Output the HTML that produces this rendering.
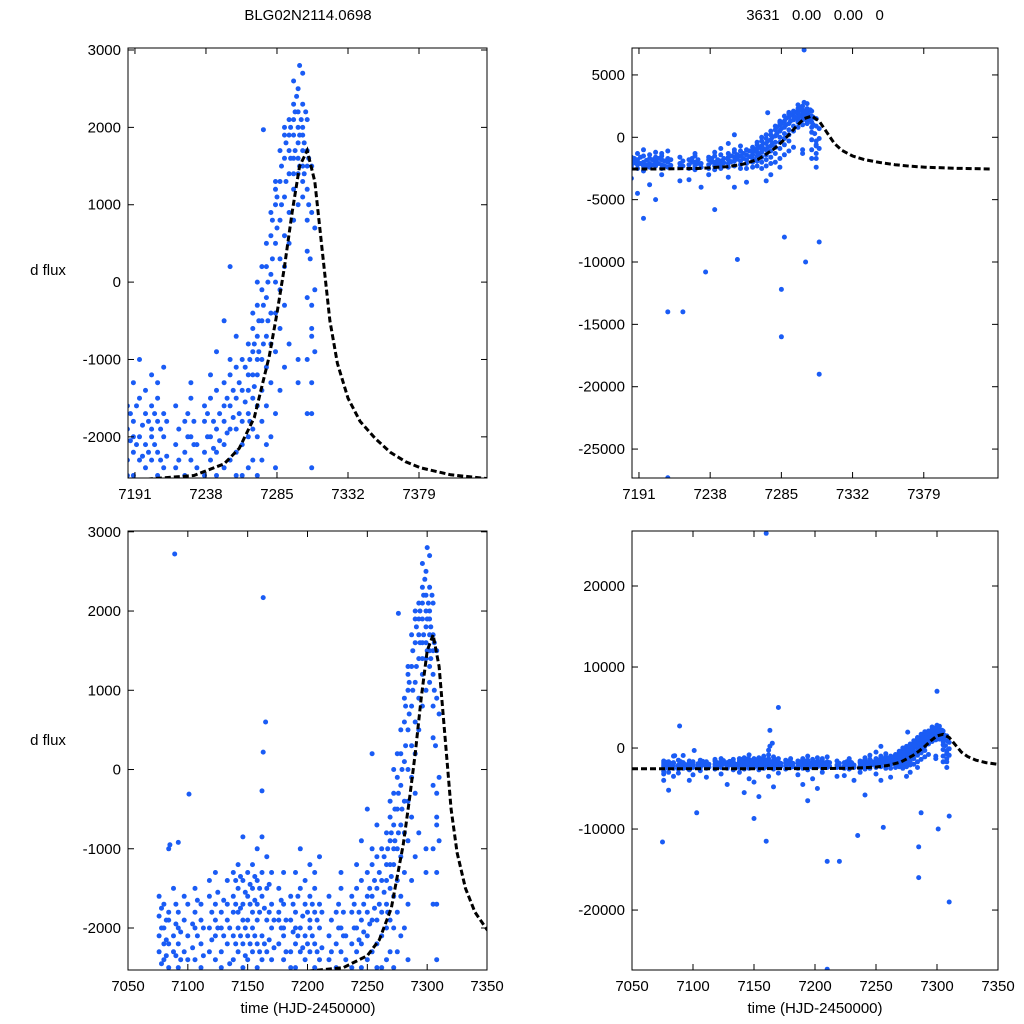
<!DOCTYPE html>
<html><head><meta charset="utf-8"><style>
html,body{margin:0;padding:0;background:#fff;width:1024px;height:1024px;overflow:hidden;}
svg{display:block;font-family:"Liberation Sans",sans-serif;vertical-align:top;}
</style></head><body>
<svg id="chart" width="1024" height="1024" viewBox="0 0 1024 1024">
<text x="308" y="20" text-anchor="middle" font-size="15">BLG02N2114.0698</text>
<text x="815" y="20" text-anchor="middle" font-size="15" xml:space="preserve">3631   0.00   0.00   0</text>
<text x="48" y="275" text-anchor="middle" font-size="15">d flux</text>
<text x="48" y="745" text-anchor="middle" font-size="15">d flux</text>
<text x="308" y="1013" text-anchor="middle" font-size="15">time (HJD-2450000)</text>
<text x="815" y="1013" text-anchor="middle" font-size="15">time (HJD-2450000)</text>
</svg>
<script>
const obs=[
[7076,-1850],[7076,-2100],[7076,-2300],[7076,-2600],[7076,-3200],[7076,-4000],[7076,-1600],[7076,-2900],[7075,-11600],
[7080,-2000],[7080,-2400],[7080,-1700],[7080,-3000],[7080,-2200],[7080,-5200],
[7084,-1900],[7084,-2200],[7084,-1000],[7084,-2500],[7084,-3500],[7084,-1800],[7085,-950],
[7088,-2100],[7088,-1500],[7088,-2600],[7088,-2300],[7089,2720],[7088,-3100],
[7092,-2200],[7092,-1800],[7092,-2500],[7092,-2000],[7092,-920],
[7097,-2300],[7097,-1900],[7097,-1600],[7097,-2700],[7097,-4000],
[7100,-2100],[7100,-2400],[7101,-310],[7100,-1700],[7100,-3300],[7103,-8000],
[7106,-1800],[7106,-2000],[7106,-2400],[7106,-2800],[7106,-1500],
[7111,-2200],[7111,-1700],[7111,-2500],[7111,-3600],[7111,-1900],
[7118,-2000],[7118,-1600],[7118,-2300],[7118,-2600],[7118,-1400],
[7123,-1900],[7123,-2400],[7123,-1700],[7123,-3200],[7123,-2100],[7123,-1300],
[7128,-2300],[7128,-1800],[7128,-2500],[7128,-2000],[7128,-4500],
[7133,-1700],[7133,-2200],[7133,-1400],[7133,-2700],[7133,-1900],
[7138,-1600],[7138,-2100],[7138,-2400],[7138,-1300],[7138,-3000],[7138,-1800],
[7142,-1500],[7142,-2000],[7142,-2300],[7142,-1200],[7142,-2600],[7142,-5500],[7142,-1800],
[7146,-1900],[7146,-1400],[7146,-2200],[7146,-850],[7146,-2500],[7146,-1700],[7146,-3800],
[7150,-1600],[7150,-2100],[7150,-1300],[7150,-2400],[7150,-1900],[7150,-8700],[7150,-4200],
[7154,-1800],[7154,-1500],[7154,-2300],[7154,-2000],[7154,-1200],[7154,-2700],[7154,-6000],
[7158,-1700],[7158,-2200],[7158,-1400],[7158,-2500],[7158,-1000],[7158,-1900],[7160,-11500],
[7162,-1600],[7162,-2100],[7162,-850],[7162,-270],[7163,220],[7165,600],[7162,-2400],[7162,-1300],[7162,-3500],
[7163,2170],[7160,26500],
[7166,-1900],[7166,-1500],[7166,-2300],[7166,-1100],[7166,-2600],[7166,-4800],[7170,5000],
[7170,-2000],[7170,-1700],[7170,-2400],[7170,-1300],[7170,-3100],
[7176,-1800],[7176,-2200],[7176,-1500],[7176,-2600],[7176,-1900],
[7180,-2100],[7180,-1700],[7180,-2400],[7180,-2000],[7180,-1300],
[7186,-1900],[7186,-2300],[7186,-1600],[7186,-2500],[7186,-3300],
[7190,-2200],[7190,-1800],[7190,-1300],[7190,-2500],[7190,-2000],[7190,-4500],
[7194,-2000],[7194,-1500],[7194,-2300],[7194,-1000],[7194,-2700],[7194,-6500],
[7198,-1700],[7198,-2100],[7198,-1400],[7198,-2400],[7198,-3800],
[7202,-1900],[7202,-1600],[7202,-2300],[7202,-1200],[7202,-2000],[7202,-5000],
[7206,-1800],[7206,-2200],[7206,-1500],[7206,-2500],[7206,-1300],[7206,-3000],[7210,-27300],
[7210,-2000],[7210,-1700],[7210,-2400],[7210,-1100],[7210,-14000],
[7218,-2100],[7218,-1600],[7218,-2400],[7220,-14000],[7218,-3500],
[7224,-2200],[7224,-1800],[7224,-2500],[7224,-3400],
[7228,-2000],[7228,-1500],[7228,-2300],[7228,-1300],[7228,-2600],
[7232,-2400],[7232,-2100],[7232,-4000],[7235,-10800],
[7237,-2200],[7237,-1800],[7237,-2500],[7237,-1600],[7237,-3000],
[7241,-2000],[7241,-1500],[7241,-2300],[7241,-1200],[7241,-2600],[7241,-5800],
[7245,-1900],[7245,-1400],[7245,-2200],[7245,-900],[7245,-2500],
[7250,-1800],[7250,-1300],[7250,-2100],[7250,-500],[7250,-2400],[7250,-1600],[7250,-3200],
[7254,-1600],[7254,-1900],[7254,-1200],[7254,200],[7254,-2300],[7254,-1000],[7254,-4000],
[7258,-1500],[7258,-1900],[7258,-1100],[7258,-2200],[7258,-700],[7258,-2500],[7256,-9800],
[7262,-1400],[7262,-1800],[7262,-1000],[7262,-2100],[7262,-2500],[7262,-3600],
[7266,-1200],[7266,-1700],[7266,-800],[7266,-2000],[7266,-1400],[7266,-2400],
[7269,-900],[7269,-1500],[7269,-600],[7269,-1900],[7269,-1200],[7269,-2300],[7269,-400],
[7272,-700],[7272,-1200],[7272,-300],[7272,-1600],[7272,-1000],[7272,-2000],[7272,0],[7272,-2500],
[7275,-500],[7275,-1000],[7275,-100],[7275,-1400],[7275,200],[7275,-1800],[7275,-2300],[7275,-3500],
[7278,-200],[7278,-700],[7278,200],[7278,-1100],[7278,500],[7278,-1600],[7278,-2100],[7278,-3000],[7276,1970],
[7281,100],[7281,-400],[7281,600],[7281,-800],[7281,900],[7281,-1300],[7281,-2000],
[7284,500],[7284,0],[7284,1000],[7284,-400],[7284,1300],[7284,-900],[7284,-1700],[7284,-2400],[7284,1200],[7285,-16000],[7285,-12200],
[7287,800],[7287,300],[7287,1300],[7287,-100],[7287,1700],[7287,-600],[7287,-1400],[7287,-8000],
[7290,1100],[7290,600],[7290,1600],[7290,200],[7290,1900],[7290,-300],[7290,-1100],[7290,2000],
[7293,1400],[7293,900],[7293,1900],[7293,500],[7293,2100],[7293,1700],[7293,-800],
[7296,1600],[7296,1200],[7296,2100],[7296,800],[7296,2300],[7296,1900],[7296,2600],[7296,1400],
[7299,1800],[7299,1400],[7299,2200],[7299,1000],[7299,2500],[7299,2000],[7300,2800],[7299,1600],[7299,-1000],[7299,-1300],[7300,7000],
[7302,1900],[7302,1500],[7302,2300],[7302,1100],[7302,2700],[7302,1700],[7302,2000],[7302,1300],
[7305,1700],[7305,1200],[7305,2100],[7305,800],[7305,1500],[7305,-200],[7305,400],[7305,-1000],[7305,-1700],[7301,-10000],
[7308,1500],[7308,900],[7308,-300],[7308,-700],[7308,-1300],[7308,-1700],[7308,-2400],[7308,-600],[7310,-19000],
[7310,700],[7310,-100],[7310,-900],[7310,-8400]
];
const obsExtra=[
[7078,-2000],[7078,-2450],[7078,-1750],[7082,-2150],[7082,-1900],[7082,-2350],[7090,-1950],[7090,-2350],[7090,-1700],
[7094,-2050],[7094,-2400],[7104,-1950],[7104,-2250],[7108,-2100],[7108,-1650],[7113,-2000],[7113,-2350],
[7120,-1800],[7120,-2150],[7125,-2000],[7125,-1550],[7130,-2100],[7130,-1650],[7135,-2000],[7135,-2450],
[7140,-1700],[7140,-2200],[7140,-1400],[7144,-1750],[7144,-2100],[7144,-1350],[7148,-2000],[7148,-1550],[7148,-2350],
[7152,-1700],[7152,-2200],[7152,-1450],[7156,-1650],[7156,-2100],[7156,-1350],[7160,-1800],[7160,-2300],[7160,-1500],
[7164,-1750],[7164,-2200],[7168,-1800],[7168,-2150],[7168,-1450],[7172,-1900],[7172,-2250],[7178,-2000],[7178,-1650],
[7182,-1900],[7182,-2300],[7188,-2050],[7188,-1700],[7192,-2100],[7192,-1600],[7196,-1850],[7196,-2250],
[7200,-1800],[7200,-2200],[7204,-1700],[7204,-2100],[7208,-1900],[7208,-2300],[7212,-1800],[7212,-2250],
[7220,-1900],[7220,-2300],[7226,-2000],[7226,-1700],[7230,-2100],[7230,-1800],[7239,-2000],[7239,-1700],
[7243,-1800],[7243,-2150],[7247,-1700],[7247,-2050],[7252,-1500],[7252,-1950],[7256,-1400],[7256,-1750],
[7260,-1300],[7260,-1700],[7264,-1100],[7264,-1550],[7267,-1000],[7267,-1800],[7270,-800],[7270,-1350],
[7273,-500],[7273,-900],[7276,-300],[7276,-800],[7279,0],[7279,-500],[7282,300],[7282,800],[7285,700],[7285,1100],
[7288,1000],[7288,1500],[7291,1300],[7291,1800],[7294,1600],[7294,2000],[7297,1700],[7297,2200],[7298,2400],
[7300,1900],[7300,1500],[7301,2100],[7303,1800],[7303,1400],[7304,2200],[7306,1600],[7306,1000],[7307,300]
];
const modelTime=[7050,7100,7150,7200,7230,7250,7260,7270,7280,7285,7290,7295,7300,7305,7310,7315,7320,7325,7332,7340,7350,7360,7370,7380,7400,7424];
const modelFlux=[-2560,-2560,-2555,-2545,-2500,-2350,-2150,-1750,-950,-400,200,900,1500,1700,1300,400,-500,-1050,-1500,-1800,-2020,-2200,-2320,-2400,-2490,-2540];
const xTicksTop=[7191,7238,7285,7332,7379];
const xTicksBottom=[7050,7100,7150,7200,7250,7300,7350];
const yTicksSmall=[-2000,-1000,0,1000,2000,3000];
const yTicksTopRight=[-25000,-20000,-15000,-10000,-5000,0,5000];
const yTicksBottomRight=[-20000,-10000,0,10000,20000];

const NS='http://www.w3.org/2000/svg';
const svg=document.getElementById('chart');
function mk(tag,attrs,parent){const e=document.createElementNS(NS,tag);for(const k in attrs)e.setAttribute(k,attrs[k]);(parent||svg).appendChild(e);return e;}

const panels=[
 {id:'tl',x0:128,x1:487,y0:48,y1:478,t0:7186.4,t1:7424,f0:-2532,f1:3026,xt:xTicksTop,yt:yTicksSmall},
 {id:'tr',x0:632,x1:998,y0:48,y1:478,t0:7186.4,t1:7428,f0:-27320,f1:7160,xt:xTicksTop,yt:yTicksTopRight},
 {id:'bl',x0:128,x1:487,y0:531,y1:970,t0:7050,t1:7350,f0:-2530,f1:3010,xt:xTicksBottom,yt:yTicksSmall},
 {id:'br',x0:632,x1:998,y0:531,y1:970,t0:7050,t1:7350,f0:-27400,f1:26790,xt:xTicksBottom,yt:yTicksBottomRight}
];
const allObs=obs.concat(obsExtra);
panels.forEach(p=>{
 const sx=t=>p.x0+(t-p.t0)/(p.t1-p.t0)*(p.x1-p.x0);
 const sy=f=>p.y1-(f-p.f0)/(p.f1-p.f0)*(p.y1-p.y0);
 const g=mk('g',{});
 
 
 const cp=mk('clipPath',{id:'clip-'+p.id},g);
 mk('rect',{x:p.x0,y:p.y0,width:p.x1-p.x0,height:p.y1-p.y0},cp);
 const pts=mk('g',{'clip-path':'url(#clip-'+p.id+')'},g);
 
 
 allObs.forEach(o=>{
  if(o[0]<p.t0-1||o[0]>p.t1+1||o[1]<p.f0-(p.f1-p.f0)*0.01||o[1]>p.f1+(p.f1-p.f0)*0.01)return;
  const c=mk('circle',{cx:sx(o[0]).toFixed(1),cy:sy(o[1]).toFixed(1),r:2.5,fill:'#1a5cf5'},pts);
  
  
 });
 let d='';
 for(let i=0;i<modelTime.length;i++){d+=(i?'L':'M')+sx(modelTime[i]).toFixed(1)+','+sy(modelFlux[i]).toFixed(1);}
 const ln=mk('path',{d:d,fill:'none',stroke:'#000','stroke-width':3,'stroke-dasharray':'6,3','clip-path':'url(#clip-'+p.id+')'},g);
 
 
 const fr=mk('rect',{x:p.x0,y:p.y0,width:p.x1-p.x0,height:p.y1-p.y0,fill:'none',stroke:'#000','stroke-width':1},g);
 
 
 p.xt.forEach(t=>{
  const x=sx(t);
  mk('line',{x1:x,x2:x,y1:p.y1,y2:p.y1-6,stroke:'#000'},g);
  mk('line',{x1:x,x2:x,y1:p.y0,y2:p.y0+6,stroke:'#000'},g);
  const tx=mk('text',{x:x,y:p.y1+21,'text-anchor':'middle','font-size':15},g);
  tx.textContent=t;
  
  
 });
 p.yt.forEach(f=>{
  const y=sy(f);
  mk('line',{x1:p.x0,x2:p.x0+6,y1:y,y2:y,stroke:'#000'},g);
  mk('line',{x1:p.x1,x2:p.x1-6,y1:y,y2:y,stroke:'#000'},g);
  const tx=mk('text',{x:p.x0-7,y:y+5,'text-anchor':'end','font-size':15},g);
  tx.textContent=f;
  
  
 });
});
</script>
</body></html>
